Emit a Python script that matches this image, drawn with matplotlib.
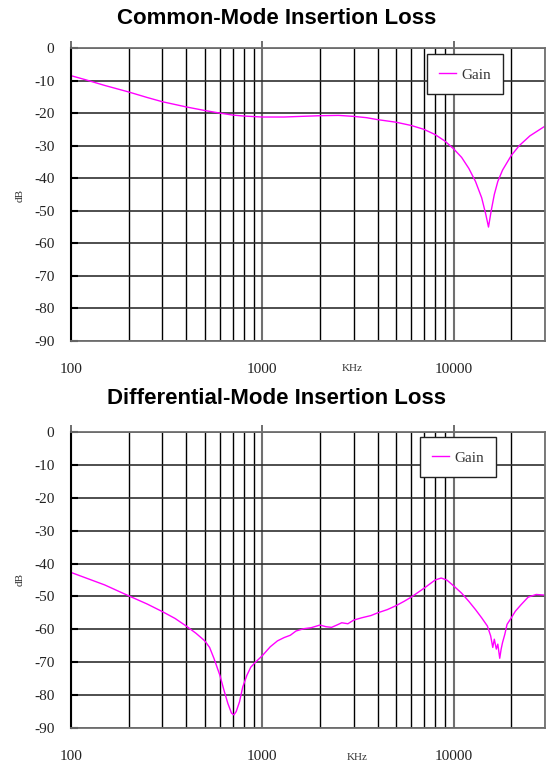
import matplotlib.pyplot as plt
from matplotlib.lines import Line2D

# Common-mode insertion loss (KHz, dB)
cm_freq = [100, 120, 150, 200, 250, 300, 400, 500, 600, 700, 800, 1000, 1300, 1600,
           2000, 2500, 3000, 3500, 4000, 5000, 6000, 7000, 8000, 9000, 10000, 11000,
           12000, 13000, 14000, 14700, 15200, 15700, 16300, 17000, 18000, 20000,
           22000, 25000, 30000]
cm_gain = [-8.5, -9.8, -11.5, -13.5, -15.2, -16.5, -18.1, -19.2, -20.0, -20.6, -20.9,
           -21.2, -21.2, -21.0, -20.8, -20.7, -21.0, -21.4, -22.0, -22.8, -23.8, -25.0,
           -26.6, -28.6, -31.0, -33.6, -37.0, -41.0, -46.0, -51.0, -55.0, -50.0, -45.0,
           -41.0, -37.5, -33.0, -30.0, -27.0, -24.0]

# Differential-mode insertion loss (KHz, dB)
dm_freq = [100, 150, 200, 250, 300, 350, 400, 450, 500, 530, 560, 600, 630, 660, 690,
           710, 730, 760, 790, 830, 870, 920, 1000, 1100, 1200, 1300, 1400, 1500, 1650,
           1800, 2000, 2150, 2300, 2450, 2600, 2800, 3000, 3300, 3700, 4000, 4500, 5000,
           5500, 6000, 7000, 8000, 8600, 9200, 10000, 11000, 12000, 13000, 14000, 15000,
           15600, 16000, 16300, 16700, 17000, 17400, 17700, 18000, 18500, 19000, 20000,
           21000, 22500, 24500, 27000, 30000]
dm_gain = [-42.7, -46.5, -49.8, -52.3, -54.6, -56.7, -59.0, -61.2, -63.5, -65.5, -69.0,
           -74.0, -78.5, -82.5, -85.5, -86.0, -85.0, -82.0, -77.5, -74.0, -71.5, -70.0,
           -68.0, -65.3, -63.5, -62.5, -61.8, -60.5, -59.8, -59.5, -58.7, -59.2, -59.4,
           -58.7, -58.0, -58.3, -57.2, -56.5, -55.8, -55.0, -54.0, -52.8, -51.5, -50.2,
           -47.5, -45.0, -44.4, -45.0, -46.8, -49.0, -51.5, -54.0, -56.5, -59.0, -62.0,
           -65.5, -63.0, -66.0, -64.5, -68.8, -66.0, -64.0, -61.5, -58.5, -56.5, -54.5,
           -52.5, -50.2, -49.4, -49.6]

yticks = [0, -10, -20, -30, -40, -50, -60, -70, -80, -90]
xticks = [100, 1000, 10000]

W, H = 553, 765
fig = plt.figure(figsize=(W / 100, H / 100), dpi=100)

serif = "Liberation Serif"
sans = "Liberation Sans"


def make_panel(rect, freq, gain, title, title_y, legend_box):
    ax = fig.add_axes(rect)
    ax.plot(freq, gain, color="#ff00ff", lw=1.0)
    ax.set_xscale("log")
    ax.set_xlim(100, 30000)
    ax.set_ylim(-90, 0)
    ax.set_yticks(yticks)
    ax.set_yticklabels([str(v) for v in yticks], fontfamily=serif, fontsize=11, color="#222222")
    ax.set_xticks(xticks)
    ax.set_xticklabels([str(v) for v in xticks], fontfamily=serif, fontsize=11, color="#222222")
    ax.tick_params(axis="y", direction="in", length=5, width=1.5, pad=12, color="black")
    ax.tick_params(axis="x", which="major", top=True, bottom=False, labelbottom=True,
                   direction="out", length=5, width=1.2, pad=10.5, color="#555555")
    ax.tick_params(axis="x", which="minor", top=False, bottom=False, labelbottom=False)
    ax.grid(True, which="major", axis="x", color="#707070", lw=1.5)
    ax.grid(True, which="minor", axis="x", color="black", lw=1.0)
    ax.grid(True, which="major", axis="y", color="#303030", lw=1.2)
    for side in ["top", "bottom", "right"]:
        ax.spines[side].set_color("#707070")
        ax.spines[side].set_linewidth(1.3)
    ax.spines["left"].set_color("black")
    ax.spines["left"].set_linewidth(1.5)
    ax.set_axisbelow(True)

    leg = ax.legend([Line2D([], [], color="#ff00ff", lw=1.0)], ["Gain"],
                    loc="upper left", bbox_to_anchor=legend_box, borderaxespad=0,
                    prop={"family": serif, "size": 11}, frameon=True, fancybox=False,
                    handlelength=1.1, handleheight=1.2, handletextpad=0.35,
                    borderpad=0.8, framealpha=1)
    leg.get_frame().set_edgecolor("#222222")
    leg.get_frame().set_linewidth(1.0)
    for t in leg.get_texts():
        t.set_color("#333333")

    fig.text(0.5, title_y, title, ha="center", va="center", fontfamily=sans,
             fontweight="bold", fontsize=16)
    return ax


ax1 = make_panel([71 / W, 1 - 341 / H, 474 / W, 293 / H], cm_freq, cm_gain,
                 "Common-Mode Insertion Loss", 1 - 18 / H, (0.751, 0.98))
ax2 = make_panel([71 / W, 1 - 728 / H, 474 / W, 296 / H], dm_freq, dm_gain,
                 "Differential-Mode Insertion Loss", 1 - 398 / H, (0.736, 0.983))

fig.text(20 / W, 1 - 195 / H, "dB", rotation=90, ha="center", va="center",
         fontfamily=serif, fontsize=8, color="#333333")
fig.text(20 / W, 1 - 580 / H, "dB", rotation=90, ha="center", va="center",
         fontfamily=serif, fontsize=8, color="#333333")
fig.text(352 / W, 1 - 368 / H, "KHz", ha="center", va="center",
         fontfamily=serif, fontsize=8, color="#333333")
fig.text(357 / W, 1 - 757 / H, "KHz", ha="center", va="center",
         fontfamily=serif, fontsize=8, color="#333333")

plt.savefig("out.png", dpi=100, facecolor="white")
